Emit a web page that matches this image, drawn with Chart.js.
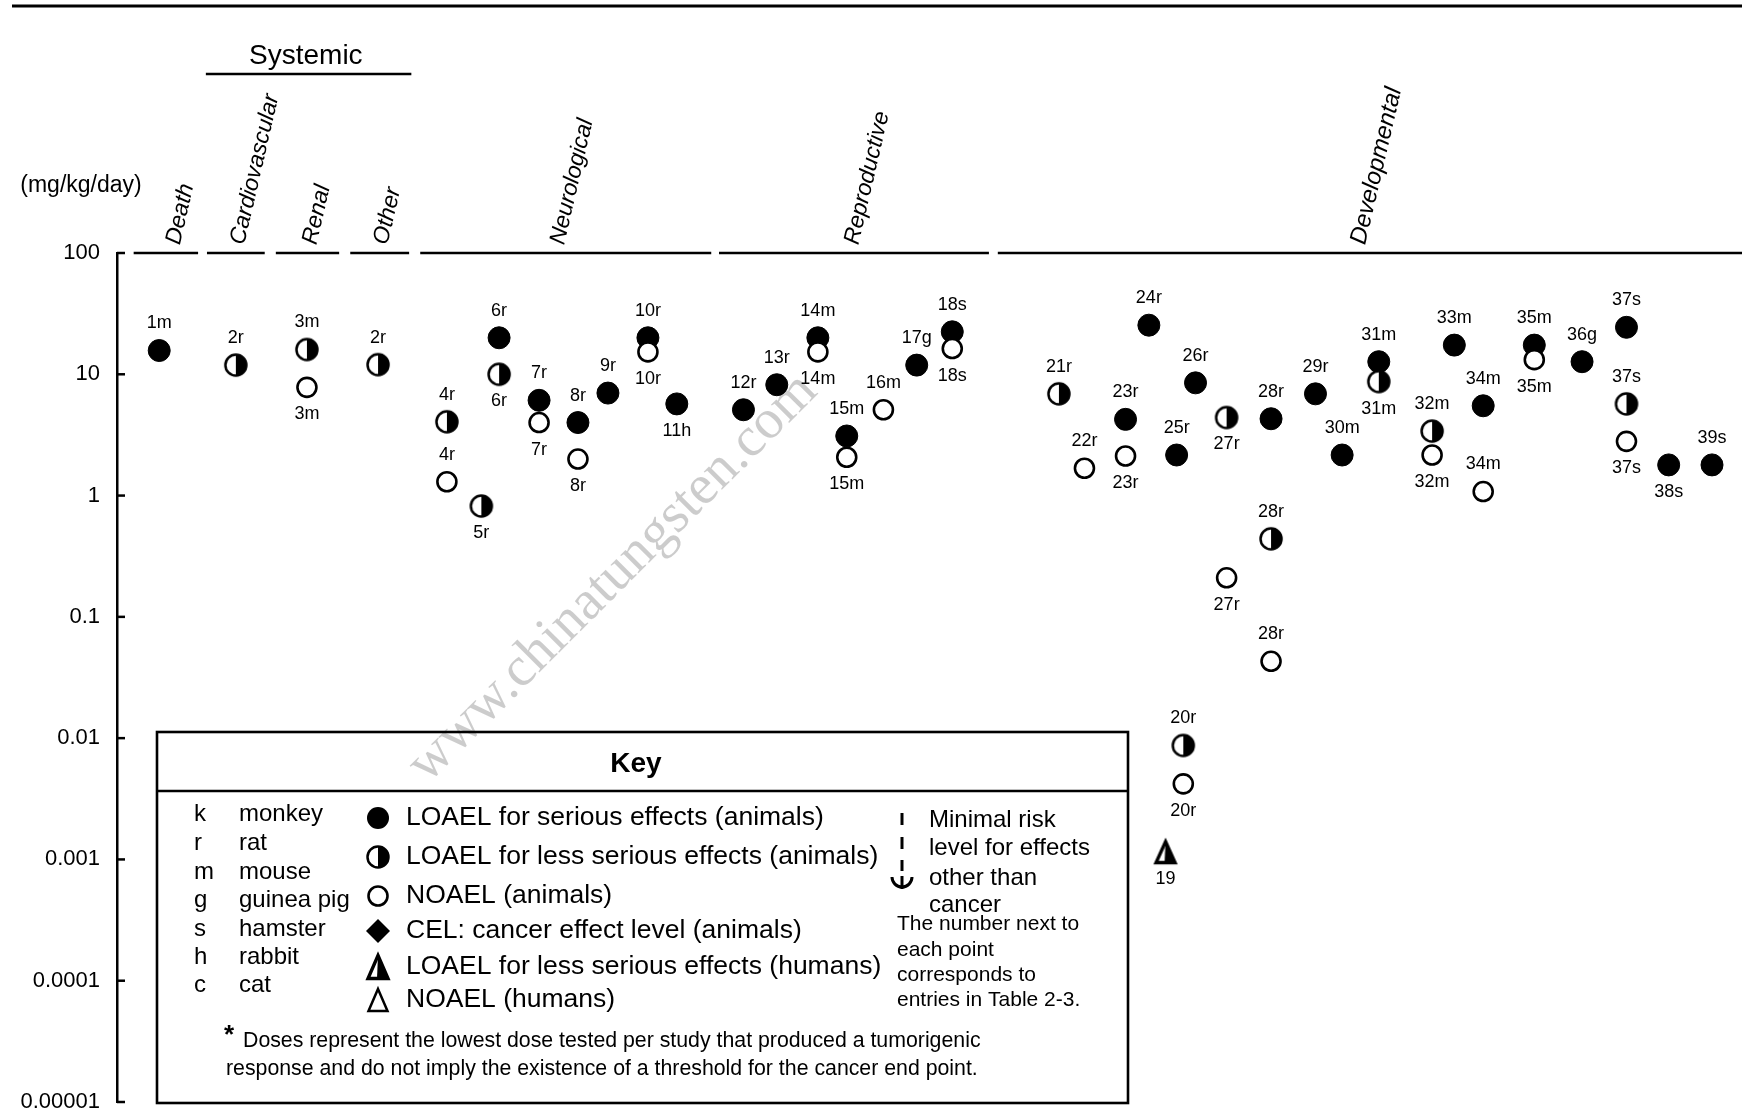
<!DOCTYPE html>
<html><head><meta charset="utf-8">
<script src="https://cdn.jsdelivr.net/npm/chart.js@4.4.1/dist/chart.umd.min.js"></script>
<style>html,body{margin:0;padding:0;background:#fff;overflow:hidden}#wrap{width:1742px;height:1111px;position:relative}canvas{display:block}</style>
</head><body><div id="wrap"><canvas id="c"></canvas></div>
<script>
// ---- data ----
const tickValues = [100, 10, 1, 0.1, 0.01, 0.001, 0.0001, 0.00001];
const tickLabels = ["100", "10", "1", "0.1", "0.01", "0.001", "0.0001", "0.00001"];
const categories = ["Death", "Cardiovascular", "Renal", "Other", "Neurological", "Reproductive", "Developmental"];
const catStart = [15, 81, 143, 210, 273, 542, 793];
const catEnd = [73, 133, 200, 263, 535, 785, 1463];
const catLabelX = [49, 107, 172, 236, 395, 660, 1116];

const pointIds = ["1m","2r","3m","3m","2r","4r","4r","5r","6r","6r","7r","7r","8r","8r","9r","10r","10r","11h",
  "12r","13r","14m","14m","15m","15m","16m","17g","18s","18s",
  "21r","22r","23r","23r","24r","19","25r","20r","20r","26r","27r","27r","28r","28r","28r","29r","30m",
  "31m","31m","32m","32m","33m","34m","34m","35m","35m","36g","37s","37s","37s","38s","39s"];
const pointCols = [38,107,171,171,235,297,297,328,344,344,380,380,415,415,442,478,478,504,
  564,594,631,631,657,657,690,720,752,752,
  848,871,908,908,929,944,954,960,960,971,999,999,1039,1039,1039,1079,1103,
  1136,1136,1184,1184,1204,1230,1230,1276,1276,1319,1359,1359,1359,1397,1436];
const pointDoses = [15.7,11.9,16,7.8,12,4.06,1.3,0.82,20,10,6.1,4.0,4.0,2.0,7.0,20,15.3,5.7,
  5.1,8.2,20,15.3,3.1,2.07,5.1,11.9,22.4,16.3,
  6.9,1.68,4.25,2.12,25.4,0.00115,2.16,0.0087,0.0042,8.5,4.4,0.21,4.3,0.44,0.043,6.9,2.16,
  12.7,8.7,3.4,2.16,17.4,5.5,1.08,17.4,13.2,12.7,24.4,5.7,2.8,1.79,1.79];
// S = LOAEL serious, L = LOAEL less serious, N = NOAEL (animals), H = LOAEL less serious (humans)
const pointKinds = ["S","L","L","N","L","L","N","L","S","L","S","N","S","N","S","S","N","S",
  "S","S","S","N","S","N","N","S","S","N",
  "L","N","S","N","S","H","S","L","N","S","L","N","S","L","N","S","S",
  "S","L","L","N","S","S","N","S","N","S","S","L","N","S","S"];
const labelSides = ["a","a","a","b","a","a","a","b","a","b","a","b","a","b","a","a","b","b",
  "a","a","a","b","a","b","a","a","a","b",
  "a","a","a","b","a","b","a","a","b","a","b","b","a","a","a","a","a",
  "a","b","a","b","a","a","a","a","b","a","a","a","b","b","a"];

const keyLetters = ["k","r","m","g","s","h","c"];
const keyAnimals = ["monkey","rat","mouse","guinea pig","hamster","rabbit","cat"];
const keyKinds = ["S","L","N","C","H","T"];
const keyTexts = ["LOAEL for serious effects (animals)","LOAEL for less serious effects (animals)","NOAEL (animals)",
  "CEL: cancer effect level (animals)","LOAEL for less serious effects (humans)","NOAEL (humans)"];
const mrlText = ["Minimal risk","level for effects","other than","cancer"];
const noteText = ["The number next to","each point","corresponds to","entries in Table 2-3."];
const footText = ["Doses represent the lowest dose tested per study that produced a tumorigenic",
  "response and do not imply the existence of a threshold for the cancer end point."];

// ---- drawing helpers ----
const FONT = '"Liberation Sans", Arial, Helvetica, sans-serif';
function drawHalfCircle(g, x, y, r) {
  g.save();
  g.beginPath(); g.arc(x, y, r, 0, Math.PI * 2); g.fillStyle = '#fff'; g.fill();
  g.beginPath(); g.moveTo(x, y - r); g.arc(x, y, r, -Math.PI / 2, Math.PI / 2); g.closePath(); g.fillStyle = '#000'; g.fill();
  g.beginPath(); g.arc(x, y, r, 0, Math.PI * 2); g.lineWidth = 2.5; g.strokeStyle = '#000'; g.stroke();
  g.restore();
}
function drawTri(g, x, y, w, h, half) {
  g.save();
  const t = y - h / 2, b = y + h / 2;
  g.beginPath(); g.moveTo(x, t); g.lineTo(x + w / 2, b); g.lineTo(x - w / 2, b); g.closePath(); g.fillStyle = '#fff'; g.fill();
  if (half) { g.beginPath(); g.moveTo(x, t); g.lineTo(x + w / 2, b); g.lineTo(x - 1, b); g.closePath(); g.fillStyle = '#000'; g.fill(); }
  g.beginPath(); g.moveTo(x, t); g.lineTo(x + w / 2, b); g.lineTo(x - w / 2, b); g.closePath();
  g.lineWidth = half ? 3.4 : 2.5; g.strokeStyle = '#000'; g.lineJoin = 'miter'; g.stroke();
  g.restore();
}
function makeImg(s, fn) {
  const c = document.createElement('canvas'); c.width = s; c.height = s;
  fn(c.getContext('2d'), s / 2); return c;
}
const halfImg = makeImg(26, (g, m) => drawHalfCircle(g, m, m, 10.5));
const triImg = makeImg(30, (g, m) => drawTri(g, m, m, 19, 21, true));

const styles = {
  S: { pointStyle: 'circle', pointRadius: 11, backgroundColor: '#000', borderColor: '#000', borderWidth: 1, order: 3 },
  L: { pointStyle: halfImg, pointRadius: 11, backgroundColor: '#000', borderColor: '#000', borderWidth: 1, order: 2 },
  N: { pointStyle: 'circle', pointRadius: 9.5, backgroundColor: '#fff', borderColor: '#000', borderWidth: 2.6, order: 1 },
  H: { pointStyle: triImg, pointRadius: 11, backgroundColor: '#000', borderColor: '#000', borderWidth: 1, order: 0 }
};
const datasets = ["S", "L", "N", "H"].map(k => Object.assign({
  label: k, clip: false,
  data: pointIds.map((id, i) => ({ x: pointCols[i], y: pointDoses[i], id: id, side: labelSides[i], kind: pointKinds[i] }))
    .filter(p => p.kind === k)
}, styles[k], { pointHoverRadius: styles[k].pointRadius }));

function keySymbol(g, k, x, y) {
  g.save();
  if (k === 'S') { g.beginPath(); g.arc(x, y, 11, 0, Math.PI * 2); g.fillStyle = '#000'; g.fill(); }
  else if (k === 'L') drawHalfCircle(g, x, y, 10.5);
  else if (k === 'N') { g.beginPath(); g.arc(x, y, 9.5, 0, Math.PI * 2); g.lineWidth = 2.6; g.strokeStyle = '#000'; g.stroke(); }
  else if (k === 'C') { g.beginPath(); g.moveTo(x, y - 12); g.lineTo(x + 12, y); g.lineTo(x, y + 12); g.lineTo(x - 12, y); g.closePath(); g.fillStyle = '#000'; g.fill(); }
  else if (k === 'H') drawTri(g, x, y, 20, 23, true);
  else if (k === 'T') drawTri(g, x, y, 19, 22, false);
  g.restore();
}

const decor = {
  id: 'decor',
  beforeDatasetsDraw(chart) {
    const g = chart.ctx;
    g.save();
    g.translate(613, 578); g.rotate(-Math.PI / 4);
    g.font = '56px "Liberation Serif", "Times New Roman", serif';
    g.fillStyle = 'rgba(0,0,0,0.2)'; g.textAlign = 'center'; g.textBaseline = 'middle';
    g.fillText('www.chinatungsten.com', 0, 0);
    g.restore();
  },
  afterDatasetsDraw(chart) {
    const g = chart.ctx;
    g.save();
    g.font = '18px ' + FONT; g.fillStyle = '#000'; g.textAlign = 'center'; g.textBaseline = 'middle';
    chart.data.datasets.forEach((ds, di) => {
      const meta = chart.getDatasetMeta(di);
      meta.data.forEach((el, i) => {
        const p = ds.data[i];
        const dy = p.side === 'a' ? -27 : 27;
        g.fillText(p.id, el.x, el.y + dy);
      });
    });
    g.restore();
  },
  afterDraw(chart) {
    const g = chart.ctx, xs = chart.scales.x, ys = chart.scales.y;
    const xp = v => xs.getPixelForValue(v);
    const y100 = ys.getPixelForValue(100);
    const ax = chart.chartArea.left;
    g.save();
    g.strokeStyle = '#000'; g.fillStyle = '#000';
    // top rule
    g.lineWidth = 3; g.beginPath(); g.moveTo(12, 6); g.lineTo(1742, 6); g.stroke();
    // inward ticks
    g.lineWidth = 2.5;
    tickValues.forEach(v => { const y = ys.getPixelForValue(v); g.beginPath(); g.moveTo(ax, y); g.lineTo(ax + 8, y); g.stroke(); });
    // category segments
    g.lineWidth = 2.6;
    categories.forEach((c, i) => { g.beginPath(); g.moveTo(xp(catStart[i]), y100); g.lineTo(xp(catEnd[i]), y100); g.stroke(); });
    // category labels
    categories.forEach((c, i) => {
      g.save();
      g.translate(xp(catLabelX[i]) + 2, y100 - 9);
      g.rotate(-77 * Math.PI / 180);
      g.font = 'italic ' + (i === 6 ? 24 : 23) + 'px ' + FONT;
      g.textAlign = 'left'; g.textBaseline = 'middle';
      g.fillText(c, 0, 0);
      g.restore();
    });
    // Systemic
    g.font = '28px ' + FONT; g.textAlign = 'center'; g.textBaseline = 'middle';
    g.fillText('Systemic', xp(170), 56);
    g.lineWidth = 2.5; g.beginPath(); g.moveTo(xp(80), 74); g.lineTo(xp(265), 74); g.stroke();
    // unit
    g.font = '23px ' + FONT; g.fillText('(mg/kg/day)', 81, 186);
    // key box
    g.lineWidth = 2.6;
    g.strokeRect(157, 732, 971, 371);
    g.beginPath(); g.moveTo(157, 791); g.lineTo(1128, 791); g.stroke();
    g.font = 'bold 28px ' + FONT; g.textAlign = 'center'; g.fillText('Key', 636, 764);
    g.textAlign = 'left';
    g.font = '24px ' + FONT;
    keyLetters.forEach((l, i) => {
      const y = [814, 843, 872, 900, 929, 957, 985][i];
      g.fillText(l, 194, y); g.fillText(keyAnimals[i], 239, y);
    });
    g.font = '26.5px ' + FONT;
    keyKinds.forEach((k, i) => {
      const y = [818, 857, 896, 931, 967, 1000][i];
      keySymbol(g, k, 378, y);
      g.fillText(keyTexts[i], 406, y);
    });
    // MRL symbol
    g.lineWidth = 3; g.lineCap = 'butt';
    [[813, 825], [837, 849], [860, 871], [876, 889]].forEach(s => { g.beginPath(); g.moveTo(902, s[0]); g.lineTo(902, s[1]); g.stroke(); });
    g.beginPath(); g.arc(902, 877, 10, 0, Math.PI); g.stroke();
    g.font = '24px ' + FONT;
    mrlText.forEach((t, i) => g.fillText(t, 929, [820, 848, 878, 905][i]));
    g.font = '21px ' + FONT;
    noteText.forEach((t, i) => g.fillText(t, 897, [924, 950, 975, 1000][i]));
    g.font = 'bold 26px ' + FONT; g.fillText('*', 224, 1036);
    g.font = '21.3px ' + FONT;
    g.fillText(footText[0], 243, 1041);
    g.fillText(footText[1], 226, 1069);
    g.restore();
  }
};

new Chart(document.getElementById('c'), {
  type: 'scatter',
  data: { datasets },
  options: {
    responsive: true, maintainAspectRatio: false, animation: false, events: [],
    layout: { autoPadding: false, padding: { top: 253, bottom: 9, left: 0, right: 0 } },
    plugins: { legend: { display: false }, tooltip: { enabled: false } },
    scales: {
      x: { type: 'linear', min: 0, max: 1463, display: false },
      y: {
        type: 'logarithmic', min: 0.00001, max: 100,
        afterBuildTicks: s => { s.ticks = tickValues.map(v => ({ value: v })); },
        afterFit: s => { s.width = 117; s.paddingTop = 0; s.paddingBottom = 0; },
        grid: { display: true, drawOnChartArea: false, drawTicks: false },
        border: { display: true, color: '#000', width: 2.5 },
        ticks: {
          color: '#000', padding: 17, font: { family: FONT, size: 22 },
          callback: v => { const i = tickValues.indexOf(v); return i >= 0 ? tickLabels[i] : ''; }
        }
      }
    }
  },
  plugins: [decor]
});
</script></body></html>
